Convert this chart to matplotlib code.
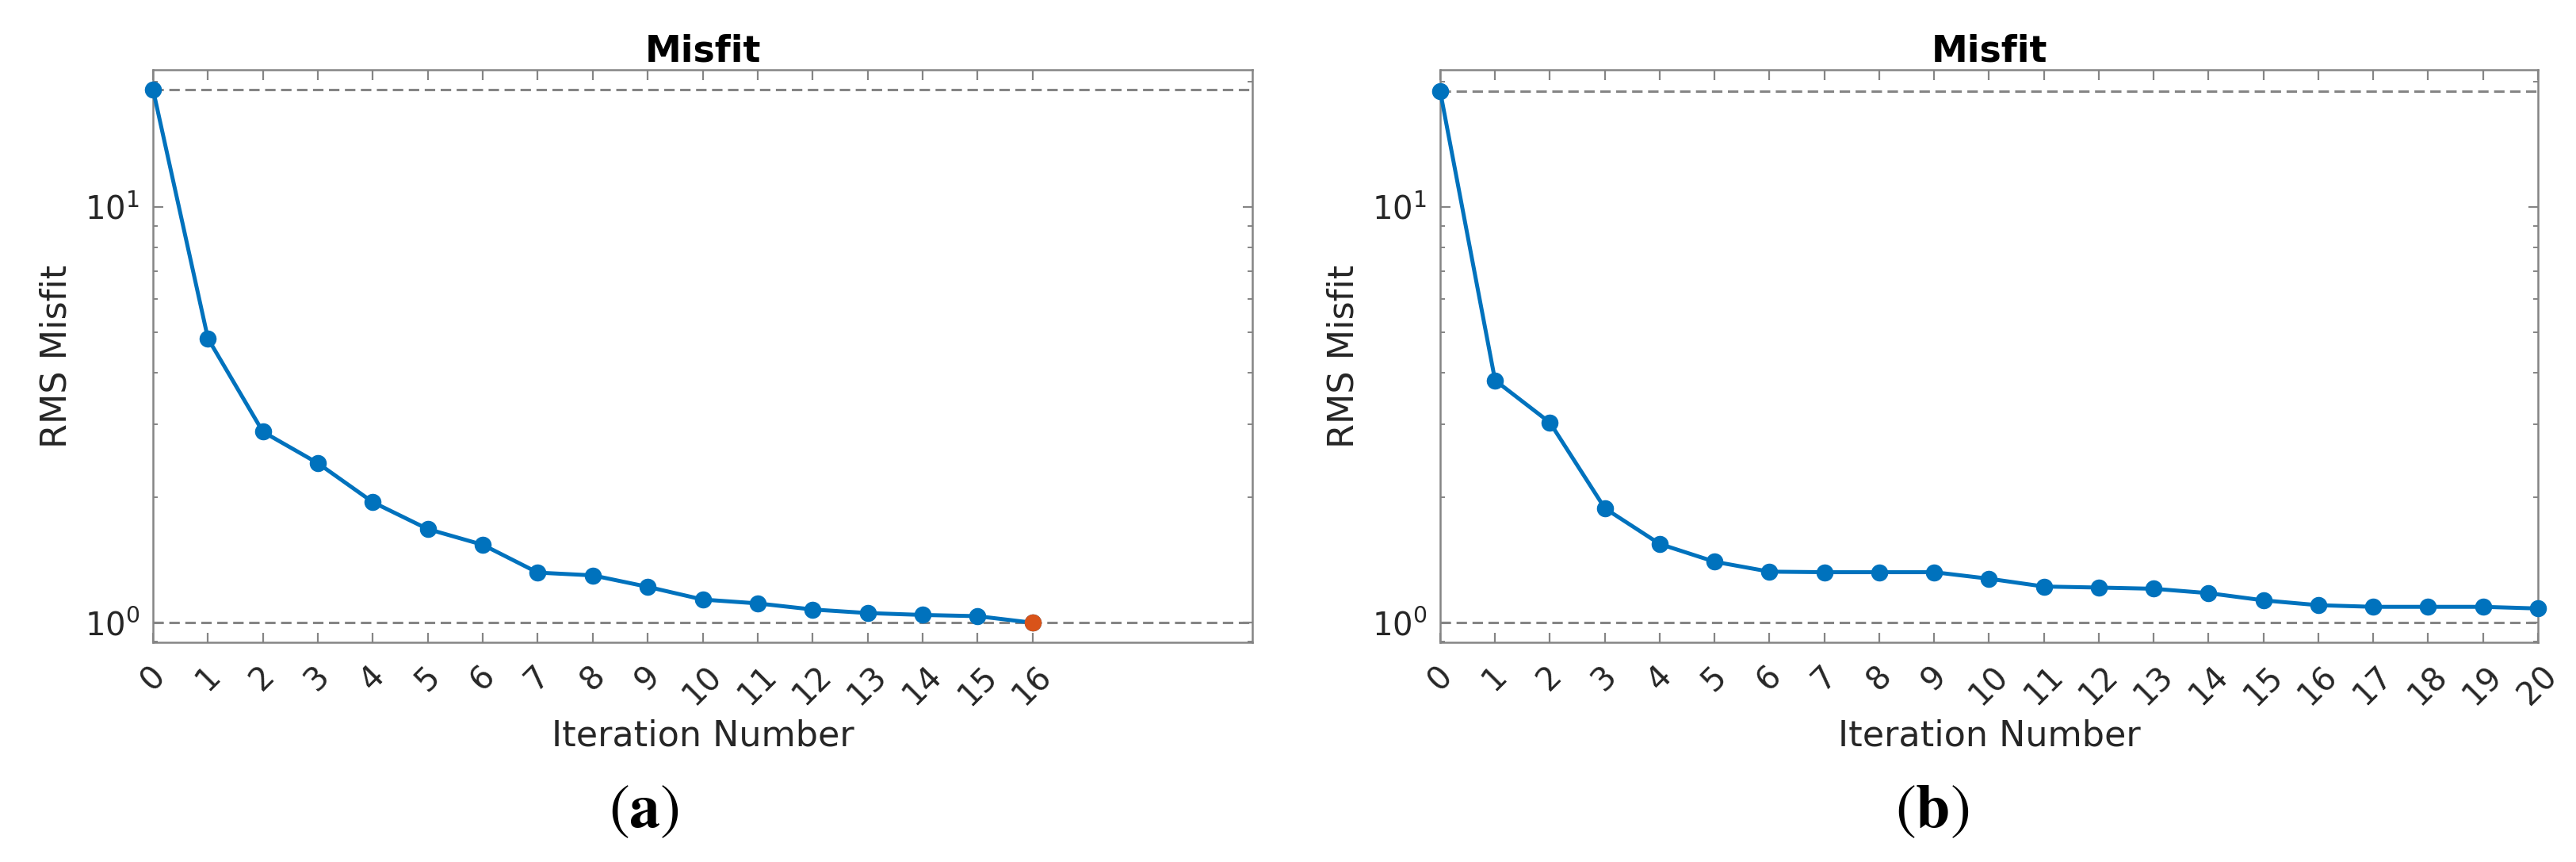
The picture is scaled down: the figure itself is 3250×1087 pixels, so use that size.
import matplotlib
matplotlib.use("Agg")
import matplotlib.pyplot as plt
from matplotlib.ticker import FixedLocator, LogLocator, NullFormatter

# ---------------- data ----------------
iters_a = list(range(0, 17))
misfit_a = [19.2, 4.83, 2.88, 2.42, 1.95, 1.68, 1.54, 1.32, 1.30, 1.22,
            1.137, 1.113, 1.076, 1.055, 1.044, 1.037, 1.0]
iters_b = list(range(0, 21))
misfit_b = [19.0, 3.83, 3.03, 1.885, 1.547, 1.402, 1.327, 1.323, 1.323, 1.323,
            1.276, 1.222, 1.215, 1.207, 1.178, 1.132, 1.102, 1.092, 1.092, 1.092,
            1.082]
target_misfit = 1.0
xticks_a = list(range(0, 17))
xticks_b = list(range(0, 21))
panel_titles = ["Misfit", "Misfit"]
subcaptions = [r"$(\mathbf{a})$", r"$(\mathbf{b})$"]
xlabel = "Iteration Number"
ylabel = "RMS Misfit"

# ---------------- style ----------------
BLUE = "#0072BD"
ORANGE = "#D95319"
AXC = "#858585"
TXT = "#262626"
DPI = 100
plt.rcParams["font.family"] = ["DejaVu Sans"]

fig = plt.figure(figsize=(3250 / DPI, 1087 / DPI), dpi=DPI)
W, H = 3250.0, 1087.0
top_px, bot_px = 88, 810
ax_a = fig.add_axes([193 / W, 1 - bot_px / H, (1580 - 193) / W, (bot_px - top_px) / H])
ax_b = fig.add_axes([1817 / W, 1 - bot_px / H, (3202 - 1817) / W, (bot_px - top_px) / H])

def style(ax, x, y, ticks, title, highlight_last):
    ax.set_yscale("log")
    ax.set_xlim(0, 20)
    ax.set_ylim(0.897, 21.4)
    dash = (0, (9.5 / 2.2, 5.0 / 2.2))
    ax.axhline(y[0], color="#858585", lw=2.2, linestyle=dash, zorder=2)
    ax.axhline(target_misfit, color="#858585", lw=2.2, linestyle=dash, zorder=2)
    ax.plot(x, y, "-o", color=BLUE, lw=3.6, markersize=14.5, zorder=3, clip_on=False)
    if highlight_last:
        ax.plot(x[-1:], y[-1:], "o", color=ORANGE, markersize=14.5, zorder=4, clip_on=False)
    ax.xaxis.set_major_locator(FixedLocator(ticks))
    ax.set_xticklabels([str(t) for t in ticks])
    ax.yaxis.set_major_locator(LogLocator(base=10, numticks=10))
    ax.yaxis.set_minor_locator(LogLocator(base=10, subs=range(2, 10), numticks=10))
    ax.yaxis.set_minor_formatter(NullFormatter())
    for s in ax.spines.values():
        s.set_color(AXC)
        s.set_linewidth(1.8)
    ax.tick_params(axis="both", which="both", direction="in", colors=AXC,
                   labelcolor=TXT, top=True, right=True, labelsize=29)
    ax.tick_params(axis="both", which="major", length=9, width=1.6)
    ax.tick_params(axis="y", which="minor", length=4.5, width=1.4)
    ax.tick_params(axis="x", which="minor", length=0)
    ax.tick_params(axis="x", which="major", pad=16, labelrotation=45)
    ax.tick_params(axis="y", which="major", pad=12)
    ax.set_xlabel(xlabel, fontsize=32, color=TXT, labelpad=7)
    ax.set_ylabel(ylabel, fontsize=32, color=TXT, labelpad=10)
    ax.set_title(title, fontsize=33, fontweight="bold", color="black", pad=6)

style(ax_a, iters_a, misfit_a, xticks_a, panel_titles[0], True)
style(ax_b, iters_b, misfit_b, xticks_b, panel_titles[1], False)

fig.text(0.25, 0.061, subcaptions[0], ha="center", va="center", fontsize=56,
         math_fontfamily="stix", color="black")
fig.text(0.75, 0.061, subcaptions[1], ha="center", va="center", fontsize=56,
         math_fontfamily="stix", color="black")

fig.savefig("out.png", dpi=DPI, facecolor="white")
